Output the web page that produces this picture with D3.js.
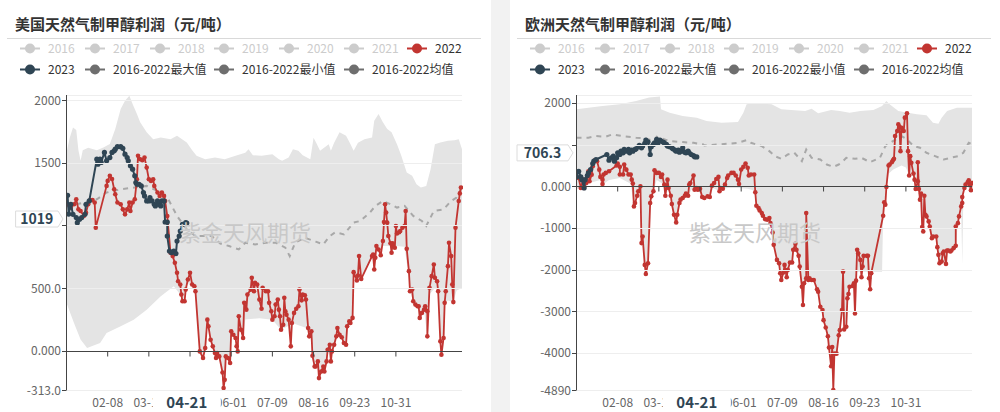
<!DOCTYPE html>
<html lang="zh">
<head>
<meta charset="UTF-8" />
<title>天然气制甲醇利润</title>
<script src="https://d3js.org/d3.v7.min.js"></script>
<style>
  body { margin: 0; background: #fff; }
  svg { display: block; font-family: "Noto Sans CJK SC", "Noto Sans", sans-serif; }
</style>
</head>
<body>
<svg id="chart" width="1000" height="412"></svg>
<script>
// x axis: day of year (leap-year calendar, 366 categories), labels every 38 days
const dayCount = 366
const tickDays = [38, 76, 114, 152, 190, 228, 266, 304]
const tickLabels = ['02-08', '03-17', '04-24', '06-01', '07-09', '08-16', '09-23', '10-31']
const pointerDay = 111
const pointerDayLabel = '04-21'

const legendNames = ['2016', '2017', '2018', '2019', '2020', '2021', '2022',
  '2023', '2016-2022最大值', '2016-2022最小值', '2016-2022均值']
const legendColors = ['#ccc', '#ccc', '#ccc', '#ccc', '#ccc', '#ccc', '#c23531',
  '#2f4554', '#6e6e6e', '#6e6e6e', '#6e6e6e']

// ---- 美国 (US) : [day index, value]
const usRed2022 = [[1,1168],[4,1141],[7,1168],[9,1208],[11,1128],[13,1115],[16,1075],[18,1100],[20,1168],[22,1202],[24,1202],[26,1182],[27,982],[37,1315],[38,1355],[40,1395],[42,1370],[44,1288],[45,1248],[47,1182],[50,1168],[52,1128],[54,1088],[56,1128],[58,1182],[59,1115],[61,1182],[63,1208],[65,1368],[66,1555],[68,1528],[70,1520],[72,1541],[74,1461],[76,1368],[78,1355],[80,1368],[81,1315],[84,1262],[86,1235],[88,1262],[90,1235],[91,1195],[93,1075],[96,782],[98,755],[100,702],[102,622],[103,555],[105,528],[106,448],[107,395],[109,395],[110,488],[112,568],[114,622],[116,528],[118,515],[119,475],[123,-5],[126,-58],[128,22],[130,248],[131,195],[133,88],[135,35],[137,-18],[138,-58],[139,-18],[141,-45],[144,-173],[145,-298],[146,-232],[147,-45],[149,-58],[151,-98],[152,155],[154,128],[156,102],[157,35],[158,-5],[159,275],[161,168],[163,102],[164,382],[166,328],[167,448],[170,488],[171,582],[173,475],[174,542],[176,528],[178,408],[180,335],[181,502],[184,475],[186,475],[187,382],[189,315],[190,248],[192,275],[193,368],[195,408],[196,328],[197,275],[198,168],[200,208],[201,422],[202,315],[203,288],[205,248],[207,35],[208,222],[210,302],[212,335],[214,355],[215,488],[217,402],[218,448],[220,442],[221,408],[223,182],[224,115],[226,155],[227,-40],[229,-125],[230,-125],[232,-85],[233,-218],[235,-165],[237,-125],[238,-165],[240,-85],[241,8],[243,48],[244,-85],[245,-5],[247,48],[249,115],[250,182],[252,128],[254,108],[256,62],[258,48],[259,195],[261,235],[262,222],[264,262],[265,627],[268,560],[269,600],[270,755],[272,573],[282,755],[283,768],[284,648],[285,742],[286,835],[288,808],[290,762],[292,875],[293,1027],[294,1168],[295,1102],[296,1022],[297,915],[299,857],[300,782],[301,857],[303,822],[304,995],[305,935],[307,945],[308,955],[310,982],[312,995],[313,1115],[314,813],[316,635],[317,475],[319,488],[320,395],[322,368],[324,355],[325,355],[326,262],[328,302],[330,328],[331,355],[333,315],[333,115],[335,502],[337,595],[339,688],[340,582],[342,555],[343,475],[345,75],[346,-32],[348,102],[349,382],[350,475],[352,675],[353,862],[355,755],[356,528],[357,388],[359,982],[362,1195],[363,1255],[364,1302]]
const usNavy2023 = [[1,1240],[2,1090],[4,1168],[6,1088],[9,1062],[10,1022],[12,1048],[14,1062],[17,1088],[18,1168],[21,1195],[28,1528],[29,1488],[31,1528],[32,1502],[35,1582],[37,1515],[40,1541],[42,1582],[44,1595],[45,1608],[47,1628],[50,1628],[52,1615],[54,1568],[56,1541],[57,1515],[59,1475],[61,1448],[63,1395],[64,1342],[65,1328],[67,1328],[69,1315],[71,1262],[72,1235],[74,1195],[76,1195],[77,1222],[79,1195],[81,1168],[82,1155],[84,1195],[85,1168],[87,1155],[88,1195],[90,1195],[91,1027],[93,1027],[93,915],[95,795],[97,782],[99,795],[101,775],[102,875],[104,915],[105,955],[107,1008],[110,1022],[111,1019]]
const usMean = [[0,1150],[10,1170],[20,1190],[28,1208],[37,1262],[50,1288],[63,1302],[74,1315],[87,1262],[94,1208],[102,1075],[111,968],[119,915],[134,915],[142,855],[150,835],[159,808],[165,862],[174,848],[184,862],[193,862],[202,822],[206,755],[211,862],[220,902],[230,870],[237,848],[243,915],[248,945],[256,928],[265,1022],[271,1035],[280,1102],[285,1155],[292,1195],[300,1165],[305,1142],[312,1155],[320,1075],[328,1035],[332,995],[339,1115],[348,1128],[355,1195],[360,1222],[364,1288]]
const usMax = [[0,1580],[3,1700],[6,1780],[9,1760],[11,1600],[13,1515],[15,1600],[20,1620],[28,1600],[34,1622],[40,1650],[45,1768],[50,1928],[54,1995],[58,2035],[61,1968],[65,1888],[68,1822],[74,1742],[80,1688],[87,1702],[96,1688],[102,1715],[111,1662],[116,1600],[120,1555],[128,1528],[137,1541],[146,1528],[156,1555],[165,1580],[168,1608],[172,1560],[180,1555],[190,1568],[196,1528],[199,1515],[205,1541],[209,1608],[214,1595],[218,1560],[225,1528],[228,1700],[231,1650],[234,1595],[242,1648],[244,1595],[247,1660],[252,1742],[258,1715],[262,1650],[265,1595],[269,1660],[275,1688],[282,1702],[284,1835],[288,1888],[292,1822],[296,1768],[300,1742],[305,1648],[309,1555],[314,1422],[319,1395],[323,1328],[327,1302],[332,1315],[336,1448],[340,1648],[345,1662],[352,1675],[358,1680],[362,1688],[365,1608]]
const usMin = [[0,380],[7,220],[13,90],[19,22],[31,62],[37,142],[50,195],[62,248],[74,328],[87,435],[99,515],[105,448],[108,395],[112,540],[119,470],[121,250],[123,-5],[126,-58],[128,22],[130,200],[133,88],[135,35],[137,-18],[138,-58],[141,-45],[144,-173],[145,-298],[147,-45],[151,-98],[152,155],[156,102],[158,-5],[160,200],[163,102],[165,250],[178,260],[190,248],[198,168],[205,200],[207,35],[209,220],[222,180],[224,115],[226,120],[227,-40],[229,-125],[232,-85],[233,-218],[235,-165],[237,-125],[238,-165],[240,-85],[241,8],[244,-85],[245,-5],[247,48],[250,150],[256,62],[258,48],[260,200],[264,262],[265,627],[268,560],[272,573],[282,755],[284,648],[286,835],[290,762],[292,835],[304,835],[312,830],[314,700],[316,635],[317,475],[320,395],[322,368],[325,355],[326,262],[330,320],[333,115],[335,450],[340,500],[343,475],[345,75],[346,-32],[348,102],[349,382],[352,400],[357,388],[360,480],[365,500]]

// ---- 欧洲 (Europe)
const euRed2022 = [[0,226],[2,200],[4,-40],[6,160],[7,-40],[9,80],[11,362],[12,120],[14,280],[15,482],[17,627],[19,600],[21,400],[22,226],[24,160],[24,56],[25,282],[27,322],[30,362],[37,499],[38,547],[40,467],[40,282],[43,282],[44,523],[46,400],[48,282],[50,282],[51,160],[52,65],[53,-482],[54,-400],[56,-225],[57,-120],[59,0],[60,-1364],[61,-1205],[63,-1887],[64,-2104],[66,-1846],[68,-400],[69,-241],[71,-120],[72,386],[74,322],[76,322],[78,226],[79,282],[81,40],[82,-225],[84,160],[85,-40],[87,-225],[88,-424],[90,-682],[92,-867],[93,-682],[95,-400],[96,-320],[98,-281],[100,-225],[101,-176],[103,-225],[104,40],[105,80],[108,258],[109,-80],[111,-40],[112,-80],[114,-60],[116,-257],[118,-281],[121,-241],[123,-257],[125,16],[127,80],[129,177],[131,226],[132,-120],[133,-40],[135,-60],[137,40],[139,200],[140,258],[143,322],[145,322],[147,258],[149,160],[150,56],[152,402],[154,467],[156,547],[158,443],[159,258],[161,282],[164,282],[165,-144],[166,-466],[168,-522],[169,-578],[171,-643],[172,-707],[174,-787],[176,-803],[178,-763],[179,-884],[181,-1108],[182,-1405],[185,-1767],[187,-1847],[188,-2087],[189,-2248],[191,-2071],[192,-1887],[194,-2184],[195,-2007],[197,-1830],[199,-1830],[200,-1525],[202,-1380],[203,-1525],[205,-1670],[206,-1927],[208,-2410],[209,-2851],[210,-2329],[212,-2208],[212,-643],[214,-2248],[215,-2208],[217,-2248],[219,-2248],[222,-2473],[223,-2530],[225,-2892],[227,-2972],[228,-3213],[230,-3390],[232,-3598],[233,-3872],[235,-4321],[236,-3856],[237,-4890],[238,-4017],[240,-4017],[242,-3574],[243,-3453],[245,-2972],[246,-2049],[247,-3437],[249,-3373],[250,-2690],[251,-2586],[252,-2410],[255,-2393],[256,-2329],[257,-3052],[258,-2265],[259,-1525],[260,-1606],[262,-1767],[263,-2184],[264,-1927],[265,-1670],[268,-1670],[269,-1670],[270,-2208],[271,-2473],[272,-2087],[283,-707],[284,-385],[285,-441],[286,-15],[288,499],[289,523],[291,579],[292,627],[293,659],[294,1205],[296,1326],[297,1487],[298,1431],[299,844],[300,1406],[302,1326],[303,1648],[305,1752],[306,844],[307,258],[308,724],[309,563],[311,306],[312,160],[313,-64],[315,120],[315,579],[316,-64],[317,-320],[318,-176],[319,-978],[320,-1084],[321,-225],[322,-682],[323,-723],[325,-843],[326,-964],[328,-1244],[329,-1205],[332,-1205],[333,-1461],[334,-1646],[335,-1846],[337,-1807],[338,-1606],[339,-1566],[341,-1863],[342,-1542],[343,-1542],[345,-1566],[346,-1542],[348,-1485],[350,-1429],[350,-964],[352,-884],[353,-723],[355,-482],[356,-402],[356,-257],[358,-40],[359,40],[361,96],[362,145],[363,40],[364,-96],[365,80]]
const euNavy2023 = [[0,226],[2,362],[4,226],[5,160],[7,-40],[8,160],[10,258],[11,322],[13,402],[15,547],[16,603],[18,643],[28,764],[30,627],[32,683],[34,724],[35,603],[37,683],[38,805],[40,764],[41,844],[43,805],[44,885],[46,844],[48,885],[49,805],[51,868],[52,844],[54,885],[55,900],[57,950],[58,981],[60,925],[61,965],[63,1030],[64,1109],[66,1069],[68,764],[69,950],[71,1005],[72,1045],[74,1125],[75,1030],[77,1109],[78,1085],[80,1061],[81,1045],[83,1005],[84,965],[86,950],[88,925],[89,900],[91,868],[92,844],[94,868],[95,820],[97,844],[98,925],[100,820],[101,805],[103,844],[104,805],[106,764],[108,740],[109,708],[111,706.3]]
const euMean = [[0,1166],[11,1166],[18,1206],[27,1190],[33,1246],[42,1206],[55,1166],[64,1150],[71,1085],[74,1190],[86,1085],[98,1061],[108,1045],[117,1005],[118,981],[131,1005],[143,1030],[149,1045],[157,1109],[161,1045],[171,965],[178,844],[183,724],[189,659],[195,764],[201,805],[208,603],[212,885],[217,683],[225,643],[231,523],[237,467],[242,523],[246,603],[249,683],[257,659],[263,683],[271,579],[280,683],[285,965],[292,1085],[300,1205],[305,1125],[311,965],[317,925],[323,805],[331,724],[339,643],[345,683],[352,724],[357,805],[362,1045],[365,1005]]
const euMax = [[0,1848],[11,1888],[24,1928],[40,1969],[55,2049],[67,2130],[77,2154],[78,1848],[86,1767],[98,1687],[111,1646],[120,1566],[134,1525],[149,1542],[154,1767],[157,1969],[165,1993],[180,1969],[189,1848],[198,1832],[211,1808],[217,1864],[223,1751],[235,1832],[243,1808],[252,1767],[262,1808],[274,1832],[282,1928],[286,2049],[289,1969],[297,1808],[306,1767],[314,1727],[323,1703],[329,1527],[334,1503],[337,1646],[342,1808],[351,1888],[360,1888],[365,1888]]
const euMin = [[0,-60],[7,-60],[12,80],[22,150],[24,40],[30,150],[40,200],[50,60],[53,-482],[55,-230],[59,-40],[60,-1364],[61,-1205],[63,-1887],[64,-2104],[66,-1846],[68,-400],[69,-241],[71,-120],[74,150],[81,40],[82,-225],[85,-60],[87,-225],[88,-424],[90,-682],[92,-867],[93,-682],[95,-400],[98,-281],[103,-225],[106,-80],[112,-80],[116,-257],[118,-281],[123,-257],[126,-40],[132,-120],[135,-60],[140,-40],[150,-40],[158,-60],[164,-100],[165,-144],[166,-466],[169,-578],[172,-707],[176,-803],[179,-884],[182,-1405],[185,-1767],[188,-2087],[189,-2248],[191,-2071],[194,-2184],[197,-1830],[199,-1830],[202,-1400],[206,-1927],[208,-2410],[209,-2851],[210,-2329],[214,-2248],[219,-2248],[223,-2530],[227,-2972],[230,-3390],[233,-3872],[235,-4321],[237,-4890],[238,-4017],[240,-4017],[243,-3453],[245,-2972],[247,-3437],[249,-3373],[250,-2690],[252,-2410],[256,-2329],[257,-3052],[258,-2265],[259,-2050],[282,-2050],[283,-707],[284,-385],[286,-15],[288,300],[292,400],[296,450],[300,500],[304,450],[307,258],[311,250],[313,-64],[316,-64],[317,-320],[319,-978],[320,-1084],[322,-682],[326,-964],[328,-1244],[332,-1205],[335,-1846],[337,-1807],[341,-1863],[343,-1542],[348,-1485],[350,-1429],[352,-884],[354,-600],[355,-482],[356,-1890],[357,-257],[358,-40],[360,40],[363,-96],[365,40]]

const usTicks = [2000, 1500, 1000, 500, 0, -313]
const usTickLabels = ['2000', '1500', '1000', '500.0', '0.000', '-313.0']
const euTicks = [2000, 1000, 0, -1000, -2000, -3000, -4000, -4890]
const euTickLabels = ['2000', '1000', '0.000', '-1000', '-2000', '-3000', '-4000', '-4890']

const panels = [
  { ox: 0, title: '美国天然气制甲醇利润（元/吨）', red: usRed2022, navy: usNavy2023, mean: usMean,
    max: usMax, min: usMin, ticks: usTicks, tickLabels: usTickLabels, domain: [-313, 2040],
    last: '1019', lastValue: 1019 },
  { ox: 510, title: '欧洲天然气制甲醇利润（元/吨）', red: euRed2022, navy: euNavy2023, mean: euMean,
    max: euMax, min: euMin, ticks: euTicks, tickLabels: euTickLabels, domain: [-4890, 2192],
    last: '706.3', lastValue: 706.3 }
]

const svg = d3.select('#chart')
svg.append('rect').attr('x', 491).attr('y', 0).attr('width', 19).attr('height', 412).attr('fill', '#f2f2f2')

const row1X = [30, 95, 160, 224, 289, 354, 417]
const row2X = [30, 95, 224, 354]

function drawPanel(p, k) {
  const g = svg.append('g').attr('transform', `translate(${p.ox},0)`)
  const x = d3.scaleLinear().domain([0, dayCount - 1]).range([66.5, 462])
  const y = d3.scaleLinear().domain(p.domain).range([390, 95])
  const px = x(pointerDay)
  const ly = y(p.lastValue) - 4

  // title + separator
  g.append('text').attr('x', 15).attr('y', 30).text(p.title)
    .attr('font-size', 15).attr('font-weight', 'bold').attr('fill', '#333')
  g.append('line').attr('x1', 7).attr('x2', 481).attr('y1', 38.5).attr('y2', 38.5)
    .attr('stroke', '#d9d9d9')

  // legend
  legendNames.forEach((name, i) => {
    const lx = i < 7 ? row1X[i] : row2X[i - 7]
    const lyy = i < 7 ? 48.5 : 69.5
    const c = legendColors[i]
    g.append('line').attr('x1', lx - 10).attr('x2', lx + 10).attr('y1', lyy).attr('y2', lyy)
      .attr('stroke', c).attr('stroke-width', 2)
    g.append('circle').attr('cx', lx).attr('cy', lyy).attr('r', 5).attr('fill', c)
    g.append('text').attr('x', lx + 18).attr('y', lyy + 4.5).text(name)
      .attr('font-size', 12).attr('fill', i >= 6 ? '#333' : '#ccc')
  })

  const clipId = 'clip' + k
  g.append('clipPath').attr('id', clipId).append('rect')
    .attr('x', 66).attr('y', 94).attr('width', 397).attr('height', 297)
  const plot = g.append('g').attr('clip-path', `url(#${clipId})`)

  // band between min and max
  const pt = d => [x(d[0]), y(d[1])]
  const poly = p.max.map(pt).concat(p.min.slice().reverse().map(pt))
  plot.append('path').attr('d', 'M' + poly.join('L') + 'Z').attr('fill', '#e4e4e4')

  // grid
  const snap = v => Math.round(y(v)) + 0.5
  g.selectAll(null).data(p.ticks.concat([p.domain[1]])).enter().append('line')
    .attr('x1', 66).attr('x2', 462).attr('y1', snap).attr('y2', snap)
    .attr('stroke', '#eeeeee')

  // watermark
  g.append('text').attr('x', 179).attr('y', 241).text('紫金天风期货')
    .attr('font-size', 22).attr('fill', '#c8c8c8')

  // axes
  const y0 = snap(0)
  g.append('line').attr('x1', 66).attr('x2', 462).attr('y1', y0).attr('y2', y0).attr('stroke', '#444')
  g.selectAll(null).data(tickDays).enter().append('line')
    .attr('x1', d => x(d)).attr('x2', d => x(d)).attr('y1', y0).attr('y2', y0 + 5).attr('stroke', '#444')
  g.append('line').attr('x1', 66.5).attr('x2', 66.5).attr('y1', 95).attr('y2', 390).attr('stroke', '#444')
  g.selectAll(null).data(p.ticks).enter().append('line')
    .attr('x1', 62).attr('x2', 66.5).attr('y1', snap).attr('y2', snap)
    .attr('stroke', '#444')

  // tick labels (the ones sitting under the pointer labels are hidden, as in the original)
  const yLab = p.ticks.map((d, i) => [d, p.tickLabels[i]]).filter(d => Math.abs(y(d[0]) - ly) > 10)
  g.selectAll(null).data(yLab).enter().append('text')
    .attr('x', 61).attr('y', d => y(d[0]) + 4.5).attr('text-anchor', 'end')
    .attr('font-size', 12).attr('fill', '#666').text(d => d[1])
  const xLab = tickDays.map((d, i) => [d, tickLabels[i]]).filter(d => Math.abs(x(d[0]) - px) > 20)
  g.selectAll(null).data(xLab).enter().append('text')
    .attr('x', d => x(d[0])).attr('y', 406.5).attr('text-anchor', 'middle')
    .attr('font-size', 12).attr('fill', '#666').text(d => d[1])

  // mean
  const line = d3.line().x(d => x(d[0])).y(d => y(d[1]))
  plot.append('path').attr('d', line(p.mean)).attr('fill', 'none')
    .attr('stroke', '#a8a8a8').attr('stroke-width', 2).attr('stroke-dasharray', '5,5')

  // 2022 and 2023
  const series = [[p.red, '#c23531', 1.8, 2.3], [p.navy, '#2f4554', 2, 2.6]]
  series.forEach(([data, color, w, r]) => {
    plot.append('path').attr('d', line(data)).attr('fill', 'none')
      .attr('stroke', color).attr('stroke-width', w).attr('stroke-linejoin', 'round')
    plot.selectAll(null).data(data).enter().append('circle')
      .attr('cx', d => x(d[0])).attr('cy', d => y(d[1])).attr('r', r).attr('fill', color)
  })

  // axis pointer labels
  g.append('rect').attr('x', px - 34).attr('y', 392).attr('width', 68).attr('height', 20).attr('fill', '#fff')
  g.append('text').attr('x', px).attr('y', 408).attr('text-anchor', 'middle').text(pointerDayLabel)
    .attr('font-size', 15).attr('font-weight', 'bold').attr('fill', '#2f4554')

  const bw = p.last.length * 8.6 + 8
  const bx = 58 - bw
  g.append('path')
    .attr('d', `M${bx},${ly - 8}H58L63,${ly}L58,${ly + 8}H${bx}Z`)
    .attr('fill', '#fff').attr('stroke', '#dcdcdc')
  g.append('text').attr('x', bx + bw / 2).attr('y', ly + 5).attr('text-anchor', 'middle').text(p.last)
    .attr('font-size', 14).attr('font-weight', 'bold').attr('fill', '#2f4554')
}

panels.forEach(drawPanel)
</script>
</body>
</html>
